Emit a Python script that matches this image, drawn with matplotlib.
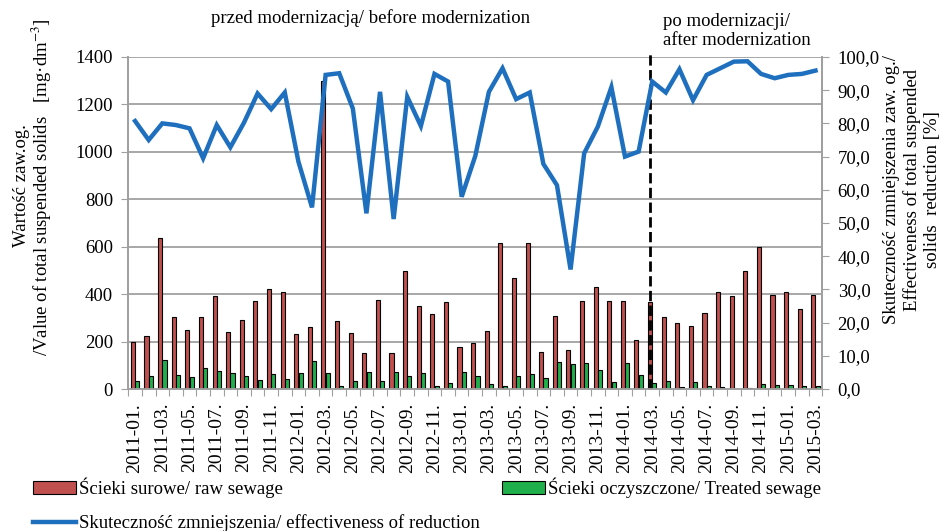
import numpy as np
import pandas as pd
import matplotlib
matplotlib.use('Agg')
import matplotlib.pyplot as plt
from matplotlib.ticker import FuncFormatter, MultipleLocator

plt.rcParams['font.family'] = ['Liberation Serif', 'DejaVu Serif']
plt.rcParams['mathtext.fontset'] = 'stix'

# months 2011-01 .. 2015-03
months = [p.strftime('%Y-%m.') for p in pd.period_range('2011-01', '2015-03', freq='M')]

# raw sewage [mg/dm3]
raw = [200, 225, 635, 305, 250, 305, 392, 242, 292, 371, 420, 409,
       232, 263, 1300, 285, 237, 153, 375, 153, 499, 350, 316, 367,
       178, 193, 245, 617, 470, 617, 157, 306, 166, 370, 429, 370,
       370, 207, 367, 305, 280, 266, 322, 411, 394, 499, 600, 398,
       408, 337, 398]

# treated sewage [mg/dm3]
treated = [35, 55, 122, 59, 52, 89, 77, 66, 55, 38, 63, 41,
           69, 117, 66, 13, 35, 72, 35, 72, 55, 69, 13, 24,
           72, 55, 21, 13, 55, 63, 45, 115, 105, 108, 80, 31,
           108, 58, 24, 32, 10, 31, 13, 10, 1, 4, 22, 17,
           17, 13, 13]

# effectiveness of reduction [%]
effect = [80.7, 75.0, 80.0, 79.5, 78.5, 69.5, 79.5, 72.8, 80.2, 89.0, 84.3, 89.3,
          68.5, 54.7, 94.6, 95.1, 84.5, 52.9, 89.5, 51.2, 88.0, 79.2, 94.9, 92.6,
          57.9, 70.2, 89.5, 96.6, 87.3, 89.3, 67.8, 61.4, 36.0, 71.0, 79.0, 90.9,
          70.0, 71.5, 92.6, 89.3, 96.3, 87.0, 94.6, 96.6, 98.6, 98.7, 94.9, 93.6,
          94.6, 94.9, 95.9]

modernization_idx = months.index('2014-03.')

gray = '#A0A0A0'
red = '#C0504D'
green = '#1FAF4B'
blue = '#1F6FBF'
fs = 13.5

fig = plt.figure(figsize=(9.44, 5.31), dpi=100)
ax = fig.add_axes([0.1359, 0.2674, 0.7352, 0.6253])
ax2 = ax.twinx()

x = np.arange(len(months))
w = 0.3
ax.bar(x - 0.16, raw, w, color=red, edgecolor='black', linewidth=0.8, zorder=3,
       label='Ścieki surowe/ raw sewage')
ax.bar(x + 0.16, treated, w, color=green, edgecolor='black', linewidth=0.8, zorder=3,
       label='Ścieki oczyszczone/ Treated sewage')
ax2.plot(x, effect, color=blue, linewidth=3.2, solid_joinstyle='miter',
         label='Skuteczność zmniejszenia/ effectiveness of reduction')

# modernization marker
ax.axvline(modernization_idx - 0.17, ymin=0, ymax=1.01, color='black', ls='--',
           lw=2, clip_on=False, zorder=4)

ax.set_xlim(-0.5, len(months) - 0.5)
ax.set_ylim(0, 1400)
ax2.set_ylim(0, 100)
ax.yaxis.set_major_locator(MultipleLocator(200))
ax2.yaxis.set_major_locator(MultipleLocator(10))
ax2.yaxis.set_major_formatter(FuncFormatter(lambda v, p: f'{v:.1f}'.replace('.', ',')))

ax.grid(axis='y', color=gray, linewidth=1.3, zorder=0)
ax.set_axisbelow(True)

# ticks on category borders, labels every second month
ax.set_xticks(np.arange(-0.5, len(months), 1))
ax.set_xticklabels([])
ax.set_xticks(x[::2], minor=True)
ax.set_xticklabels(months[::2], minor=True, rotation=90, fontsize=14)
ax.tick_params(axis='x', which='major', length=5, color=gray, direction='out')
ax.tick_params(axis='x', which='minor', length=0, pad=10)
ax.tick_params(axis='y', length=5, color=gray, labelsize=fs, pad=6)
ax2.tick_params(axis='y', length=5, color=gray, labelsize=fs, pad=6)

for a in (ax, ax2):
    for s in a.spines.values():
        s.set_color(gray)
        s.set_linewidth(1.3)
    a.spines['top'].set_visible(False)

# axis titles
fig.text(22 / 944, 1 - 186 / 531, 'Wartość zaw.og.', rotation=90, ha='center',
         va='center', fontsize=fs)
fig.text(42 / 944, 1 - 187 / 531, '/Value of total suspended solids   [mg·dm$^{-3}$]',
         rotation=90, ha='center', va='center', fontsize=fs)
fig.text(912 / 944, 1 - 190 / 531,
         'Skuteczność zmniejszenia zaw. og./\nEffectiveness of total suspended\nsolids  reduction [%]',
         rotation=90, ha='center', va='center', fontsize=fs, linespacing=1.2)

# period annotations
fig.text(371 / 944, 1 - 18 / 531, 'przed modernizacją/ before modernization',
         ha='center', va='center', fontsize=fs)
fig.text(663 / 944, 1 - 31 / 531, 'po modernizacji/\nafter modernization',
         ha='left', va='center', fontsize=fs, linespacing=1.2)

h1, l1 = ax.get_legend_handles_labels()
h2, l2 = ax2.get_legend_handles_labels()
leg = fig.legend([h1[0], h2[0], h1[1]], [l1[0], l2[0], l1[1]], ncol=2,
                 loc='upper left', bbox_to_anchor=(30 / 944, 1 - 475 / 531),
                 frameon=True, facecolor='white', edgecolor='none', framealpha=1,
                 fontsize=fs, handlelength=2.3, handletextpad=0.15,
                 columnspacing=1.2, labelspacing=0.85, borderpad=0.15,
                 borderaxespad=0)

fig.savefig('out.png', dpi=100)
